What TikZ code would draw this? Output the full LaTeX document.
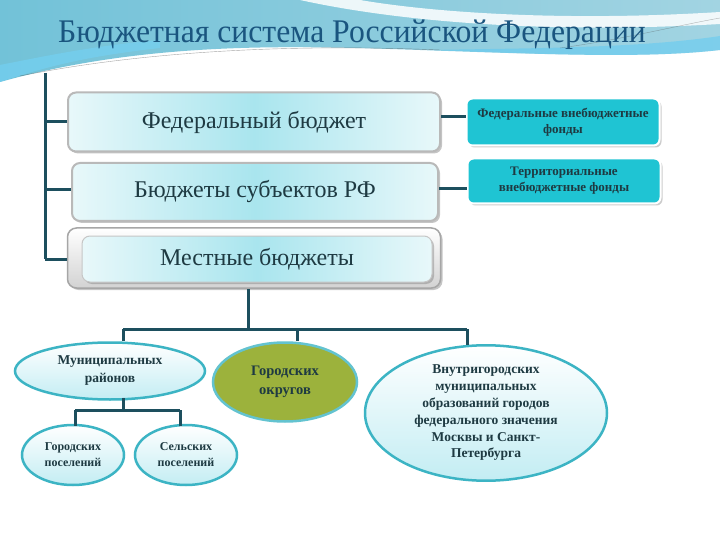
\documentclass[tikz,border=0pt]{standalone}
\usepackage{fontspec}
\setmainfont{Liberation Serif}
\usetikzlibrary{shapes.geometric,shadows}
\definecolor{linec}{HTML}{1D4F5E}
\definecolor{titlec}{HTML}{1A557F}
\definecolor{txtc}{HTML}{1E3A42}
\definecolor{boxmid}{HTML}{A9E5EE}
\definecolor{boxedge}{HTML}{E8F8FA}
\definecolor{cyanbox}{HTML}{1FC4D3}
\definecolor{ellbd}{HTML}{3CB4C4}
\definecolor{olive}{HTML}{9CB23C}
\definecolor{bgA}{HTML}{72C2D8}
\definecolor{bgB}{HTML}{A2D4E2}
\tikzset{
  conn/.style={draw=linec, line width=3pt},
  bigbox/.style={rectangle, rounded corners=8pt, draw=gray!55, line width=2pt,
    left color=boxedge, right color=boxedge, middle color=boxmid,
    drop shadow={shadow xshift=2pt, shadow yshift=-2pt, opacity=0.45},
    text=txtc, font=\fontsize{24}{28}\selectfont},
  fundbox/.style={rectangle, rounded corners=6pt, draw=white, line width=2pt,
    fill=cyanbox, drop shadow={shadow xshift=2pt, shadow yshift=-2pt, opacity=0.4},
    text=txtc, align=center, font=\bfseries\fontsize{13}{16}\selectfont},
  ell/.style={ellipse, draw=ellbd, line width=2.5pt, top color=white, bottom color=boxmid!70,
    text=txtc, align=center, inner sep=0pt},
}
\begin{document}
\begin{tikzpicture}[x=1pt,y=-1pt]
\useasboundingbox (0,0) rectangle (720,540);
\fill[white] (0,0) rectangle (720,540);
% background wave
\shade[left color=bgA, right color=bgB]
  (0,0) -- (720,0) -- (720,50) .. controls (650,58) and (560,55) .. (420,50)
  .. controls (300,46) and (150,40) .. (0,82) -- cycle;
\fill[cyan!55!white, opacity=0.6]
  (0,82) .. controls (60,62) and (100,55) .. (160,48) -- (160,40) .. controls (100,45) and (50,55) .. (0,65) -- cycle;
\fill[cyan!65!white, opacity=0.5]
  (430,50) .. controls (560,55) and (650,58) .. (720,50) -- (720,36) .. controls (640,48) and (540,48) .. (430,50) -- cycle;
\fill[white, opacity=0.85]
  (300,0) .. controls (400,22) and (550,34) .. (720,24) -- (720,12) .. controls (560,22) and (430,12) .. (360,0) -- cycle;
\draw[gray!60!black, line width=0.4pt, opacity=0.5]
  (20,76) .. controls (150,50) and (300,44) .. (440,50);
\draw[gray!60!black, line width=0.4pt, opacity=0.4]
  (560,48) .. controls (620,40) and (680,25) .. (720,18);

% title
\node[anchor=base, text=titlec, font=\fontsize{33}{38}\selectfont, xscale=0.96, transform shape] (title) at (352,43) {Бюджетная система Российской Федерации};

% main boxes
\node[bigbox, minimum width=372pt, minimum height=59pt] (fb) at (254,122) {Федеральный бюджет};
\node[bigbox, minimum width=366pt, minimum height=58pt] (sb) at (255,192) {Бюджеты субъектов РФ};
\node[rectangle, rounded corners=9pt, draw=gray!70, line width=1.5pt, top color=white, bottom color=gray!35,
  drop shadow={shadow xshift=2pt, shadow yshift=-2pt, opacity=0.45},
  minimum width=373pt, minimum height=60pt] (mbo) at (254,258) {};
\node[bigbox, drop shadow={opacity=0}, draw=gray!45, line width=1pt, minimum width=350pt, minimum height=46pt] (mb) at (257,259) {Местные бюджеты};

% funds
\node[fundbox, minimum width=193pt, minimum height=47pt] (ff) at (563,122) {Федеральные внебюджетные\\фонды};
\node[fundbox, minimum width=193pt, minimum height=45pt] (tf) at (564,181) {Территориальные\\внебюджетные фонды};

% left spine
\coordinate (top) at (45,73);
\coordinate (b1) at (45,122);
\coordinate (b2) at (45,190);
\coordinate (b3) at (45,259);
\draw[conn] (top) -- (b3);
\draw[conn] (b1) -- (fb.west |- b1);
\draw[conn] (b2) -- (sb.west |- b2);
\draw[conn] (b3) -- (mbo.west |- b3);
\draw[conn] (fb.east |- 0,117) -- (ff.west |- 0,117);
\draw[conn] (sb.east |- 0,189) -- (tf.west |- 0,189);

% ellipses
\node[ell, minimum width=190pt, minimum height=57pt, font=\bfseries\fontsize{13.5}{18}\selectfont] (mr) at (110,371) {Муниципальных\\районов};
\node[ell, minimum width=144pt, minimum height=79pt, draw=ellbd!80, fill=olive, top color=olive, bottom color=olive, font=\bfseries\fontsize{14.5}{19}\selectfont] (go) at (285,382) {Городских\\округов};
\node[ell, minimum width=242pt, minimum height=130pt, font=\bfseries\fontsize{13.5}{16.8}\selectfont] (vg) at (486,413) {Внутригородских\\муниципальных\\образований городов\\федерального значения\\Москвы и Санкт-\\Петербурга};
\node[ell, minimum width=102pt, minimum height=60pt, font=\bfseries\fontsize{12}{16}\selectfont] (gp) at (73,455) {Городских\\поселений};
\node[ell, minimum width=102pt, minimum height=60pt, font=\bfseries\fontsize{12}{16}\selectfont] (sp) at (186,455) {Сельских\\поселений};

% lower tree
\coordinate (m0) at (248,329);
\coordinate (hl) at (123,329);
\coordinate (hm) at (297,329);
\coordinate (hr) at (467,329);
\draw[conn] (mbo.south -| m0) -- (m0);
\draw[conn] (hl) -- (hr);
\draw[conn] (hl) -- (hl |- mr.north);
\draw[conn] (hm) -- (hm |- go.north);
\draw[conn] (hr) -- ([yshift=-1pt]hr |- vg.north);
\coordinate (s0) at (123,410);
\coordinate (sl) at (75,410);
\coordinate (sr) at (180,410);
\draw[conn] (123,398) -- (s0);
\draw[conn] (sl) -- (sr);
\draw[conn] (sl) -- (75,426);
\draw[conn] (sr) -- (180,426);
\end{tikzpicture}
\end{document}
